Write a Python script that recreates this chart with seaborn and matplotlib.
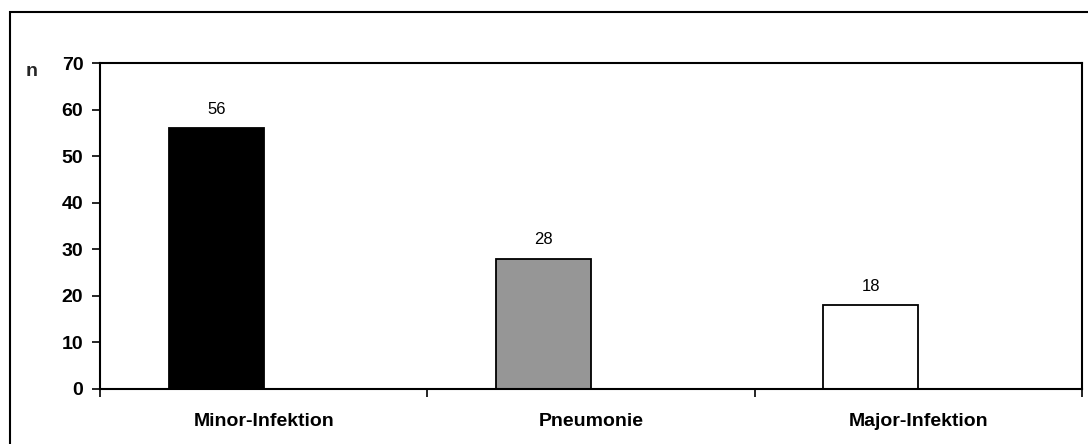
import matplotlib
matplotlib.use("Agg")
import matplotlib.pyplot as plt
import seaborn as sns
import pandas as pd
from matplotlib.patches import Rectangle
from matplotlib.ticker import FixedLocator

# Data
categories = ["Minor-Infektion", "Pneumonie", "Major-Infektion"]
counts = [56, 28, 18]
bar_colors = ["#000000", "#969696", "#ffffff"]
y_ticks = [0, 10, 20, 30, 40, 50, 60, 70]

sns.set_theme(style="white")
plt.rcParams["font.family"] = ["Liberation Sans", "DejaVu Sans"]

df = pd.DataFrame({"Kategorie": categories, "n": counts, "Serie": "n"})

fig = plt.figure(figsize=(10.88, 4.44), dpi=100)
ax = fig.add_axes([0.0919, 0.1239, 0.9026, 0.7342])

# Two-slot dodge (second slot left empty) places each bar left of its category centre
sns.barplot(data=df, x="Kategorie", y="n", hue="Serie", hue_order=["n", "leer"],
            order=categories, width=0.58, dodge=True, legend=False,
            edgecolor="black", linewidth=1.3, ax=ax)

bars = [p for p in ax.patches if p.get_height() > 0]
for patch, col in zip(bars, bar_colors):
    patch.set_facecolor(col)
    patch.set_edgecolor("black")

ax.bar_label(ax.containers[0], labels=[str(v) for v in counts], padding=8,
             fontsize=12, color="black")

ax.set_xlim(-0.5, len(categories) - 0.5)
ax.set_ylim(0, 70)
ax.set_yticks(y_ticks)
ax.set_yticklabels([str(t) for t in y_ticks], fontsize=14, fontweight="bold")
ax.set_xticks(range(len(categories)))
ax.set_xticklabels(categories, fontsize=14, fontweight="bold")
ax.xaxis.set_minor_locator(FixedLocator([-0.5, 0.5, 1.5, 2.5]))
ax.tick_params(axis="x", which="major", length=0, pad=17, colors="black")
ax.tick_params(axis="x", which="minor", bottom=True, direction="out", length=6,
               width=1.2, color="black")
ax.tick_params(axis="y", which="major", left=True, direction="out", length=6,
               width=1.2, color="black", pad=6, labelcolor="black")
ax.set_xlabel("")
ax.set_ylabel("")

for side in ["left", "right", "top", "bottom"]:
    ax.spines[side].set_visible(True)
    ax.spines[side].set_color("black")
    ax.spines[side].set_linewidth(1.5)

fig.text(32 / 1088, 1 - 72 / 444, "n", fontsize=14, fontweight="bold",
         ha="center", va="center")

# Outer chart-area border
fig.patches.append(Rectangle((9.5 / 1088, -0.05), 1.1, 1 - 12 / 444 + 0.05,
                             transform=fig.transFigure, fill=False,
                             edgecolor="black", linewidth=1.5))

fig.savefig("out.png", dpi=100, facecolor="white")
